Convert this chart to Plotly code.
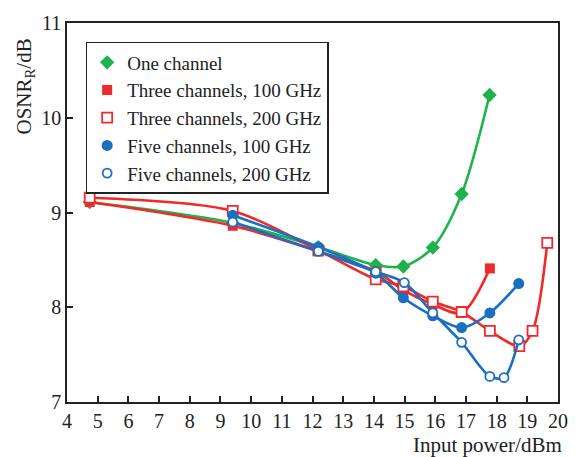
import plotly.graph_objects as go

# ---- data ----
x_one = [4.74, 9.40, 12.19, 14.06, 14.96, 15.92, 16.86, 17.77]
y_one = [9.11, 8.89, 8.635, 8.445, 8.43, 8.63, 9.195, 10.24]

x_three100 = [4.74, 9.40, 12.19, 14.09, 14.96, 15.92, 16.86, 17.78]
y_three100 = [9.11, 8.86, 8.59, 8.375, 8.18, 8.03, 7.94, 8.41]

x_three200 = [4.74, 9.40, 12.19, 14.06, 14.96, 15.92, 16.86, 17.78, 18.74, 19.17, 19.65]
y_three200 = [9.156, 9.017, 8.60, 8.295, 8.22, 8.06, 7.95, 7.75, 7.59, 7.75, 8.68]

x_five100 = [9.40, 12.19, 14.06, 14.96, 15.92, 16.86, 17.78, 18.72]
y_five100 = [8.97, 8.635, 8.36, 8.10, 7.91, 7.785, 7.94, 8.25]

x_five200 = [9.40, 12.19, 14.06, 14.99, 15.92, 16.86, 17.78, 18.24, 18.72]
y_five200 = [8.90, 8.59, 8.375, 8.26, 7.94, 7.63, 7.27, 7.257, 7.656]

names = ["One channel", "Three channels, 100 GHz", "Three channels, 200 GHz",
         "Five channels, 100 GHz", "Five channels, 200 GHz"]

GREEN = "#1fb14c"
RED = "#ee2a2a"
BLUE = "#1a6fc0"
FONT = "Liberation Serif"
INK = "#222222"

fig = go.Figure()

def marker(color, symbol, open_marker, size):
    return dict(symbol=symbol, size=size,
                color="white" if open_marker else color,
                line=dict(color=color, width=1.8 if open_marker else 0))

def add(x, y, name, color, symbol, open_marker, size=10):
    # data trace (lines + markers), not shown in legend
    fig.add_trace(go.Scatter(
        x=x, y=y, name=name, mode="lines+markers", showlegend=False,
        line=dict(color=color, width=2.6, shape="spline", smoothing=0.85),
        marker=marker(color, symbol, open_marker, size),
    ))
    # legend entry: marker only, as in the reference
    fig.add_trace(go.Scatter(
        x=[None], y=[None], name=name, mode="markers",
        marker=marker(color, symbol, open_marker, size),
    ))

add(x_one, y_one, names[0], GREEN, "diamond", False, 11)
add(x_three100, y_three100, names[1], RED, "square", False, 10)
add(x_three200, y_three200, names[2], RED, "square", True, 10)
add(x_five100, y_five100, names[3], BLUE, "circle", False, 11)
add(x_five200, y_five200, names[4], BLUE, "circle", True, 9)

fig.update_layout(
    width=580, height=457,
    margin=dict(l=67, r=12, t=18, b=55),
    paper_bgcolor="white", plot_bgcolor="white",
    font=dict(family=FONT, size=20, color=INK),
    showlegend=True,
    legend=dict(
        x=0.038, y=0.95, xanchor="left", yanchor="top",
        bgcolor="white", bordercolor=INK, borderwidth=1.5,
        font=dict(family=FONT, size=19, color=INK),
        itemwidth=30, tracegroupgap=0,
        entrywidth=240, entrywidthmode="pixels",
    ),
    xaxis=dict(
        range=[4, 20], dtick=1, tick0=4, ticks="inside", ticklen=6,
        tickwidth=1.5, tickcolor=INK,
        showline=True, linecolor=INK, linewidth=1.5, mirror=True,
        showgrid=False, zeroline=False,
        tickfont=dict(family=FONT, size=20, color=INK),
    ),
    yaxis=dict(
        range=[7, 11], dtick=1, ticks="inside", ticklen=6,
        tickwidth=1.5, tickcolor=INK,
        showline=True, linecolor=INK, linewidth=1.5, mirror=True,
        showgrid=False, zeroline=False,
        tickfont=dict(family=FONT, size=20, color=INK),
    ),
    annotations=[
        dict(text="OSNR<sub>R</sub>/dB", textangle=-90, showarrow=False,
             xref="paper", yref="paper", x=-0.085, y=0.965,
             xanchor="center", yanchor="top",
             font=dict(family=FONT, size=21, color=INK)),
        dict(text="Input power/dBm", showarrow=False,
             xref="paper", yref="paper", x=1.012, y=-0.114,
             xanchor="right", yanchor="middle",
             font=dict(family=FONT, size=21, color=INK)),
    ],
)

fig.write_html("out.html")
